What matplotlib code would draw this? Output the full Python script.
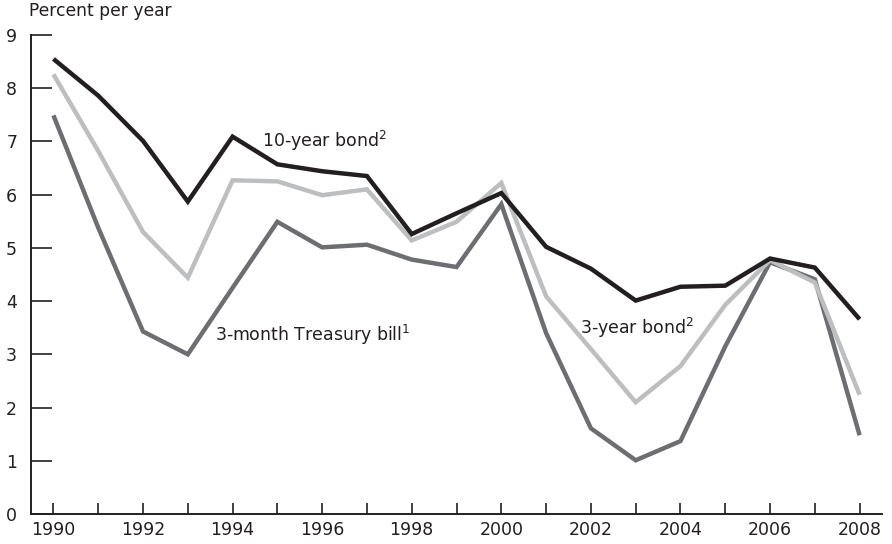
import matplotlib
matplotlib.use("Agg")
import matplotlib.pyplot as plt

years = list(range(1990, 2009))
bond_10y = [8.55, 7.86, 7.01, 5.87, 7.09, 6.57, 6.44, 6.35, 5.26, 5.65,
            6.03, 5.02, 4.61, 4.01, 4.27, 4.29, 4.80, 4.63, 3.66]
bond_3y = [8.26, 6.82, 5.30, 4.44, 6.27, 6.25, 5.99, 6.10, 5.14, 5.49,
           6.22, 4.09, 3.10, 2.10, 2.78, 3.93, 4.77, 4.35, 2.24]
bill_3m = [7.49, 5.38, 3.43, 3.00, 4.25, 5.49, 5.01, 5.06, 4.78, 4.64,
           5.82, 3.40, 1.61, 1.01, 1.37, 3.15, 4.73, 4.41, 1.48]
x_ticks = list(range(1990, 2009))
x_labels = [str(y) if y % 2 == 0 else "" for y in x_ticks]
y_ticks = list(range(0, 10))

plt.rcParams["font.family"] = ["DejaVu Sans"]
plt.rcParams["mathtext.fontset"] = "dejavusans"
txt = "#231f20"

fig = plt.figure(figsize=(8.92, 5.44), dpi=100)
ax = fig.add_axes([0.0348, 0.0551, 0.954, 0.8806])

line_kw = dict(lw=3.2, solid_joinstyle="miter", solid_capstyle="butt")
ax.plot(years, bill_3m, color="#6d6e71", **line_kw)
ax.plot(years, bond_3y, color="#bcbec0", **line_kw)
ax.plot(years, bond_10y, color="#231f20", **line_kw)

ax.set_xlim(1989.5, 2008.5)
ax.set_ylim(0, 9)
ax.set_xticks(x_ticks)
ax.set_xticklabels(x_labels)
ax.set_yticks(y_ticks)

for s in ["top", "right"]:
    ax.spines[s].set_visible(False)
for s in ["left", "bottom"]:
    ax.spines[s].set_linewidth(1.4)
    ax.spines[s].set_color(txt)

ax.tick_params(axis="y", direction="in", length=15, width=1.2, pad=10,
               labelsize=12.5, colors=txt)
ax.tick_params(axis="x", direction="in", length=8, width=1.2, pad=5,
               labelsize=12.5, colors=txt)

fig.text(0.0325, 0.98, "Percent per year", fontsize=12.3, color=txt, va="center")

ax.text(1994.65, 7.0, r"10-year bond$^2$", fontsize=12.5, color=txt, va="center")
ax.text(1993.6, 3.36, r"3-month Treasury bill$^1$", fontsize=12.5, color=txt, va="center")
ax.text(2001.75, 3.5, r"3-year bond$^2$", fontsize=12.5, color=txt, va="center")

fig.savefig("out.png", dpi=100)
